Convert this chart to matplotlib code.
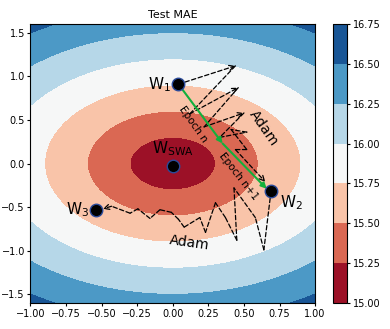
import numpy as np
import matplotlib
matplotlib.use('Agg')
import matplotlib.pyplot as plt

# contour levels of the loss surface (Test MAE)
levels = [15.0, 15.25, 15.5, 15.75, 16.0, 16.25, 16.5, 16.75]
base_loss = 15.0
slope = 0.833  # loss grows ~0.25 per 0.3 of distance from the centre

# weights
names = ['W$_1$', 'W$_2$', 'W$_3$', r'W$_\mathrm{SWA}$']
wx = [0.04, 0.69, -0.54, 0.0]
wy = [0.91, -0.32, -0.53, -0.03]

# SGD path W1 -> mid -> W2
green_x = [0.04, 0.35, 0.66]
green_y = [0.91, 0.23, -0.29]

# Adam paths (dashed), arrow flag = draw a head at the end of the segment
adam1_x = [0.04, 0.44, 0.12, 0.46, 0.22, 0.50, 0.33, 0.52, 0.41, 0.52, 0.44, 0.65]
adam1_y = [0.91, 1.12, 0.57, 0.87, 0.42, 0.58, 0.30, 0.36, 0.39, 0.16, 0.16, -0.21]
adam1_head = [1, 0, 1, 0, 1, 0, 0, 0, 0, 0, 1]

adam2_x = [0.69, 0.64, 0.58, 0.43, 0.45, 0.37, 0.30, 0.23, 0.19, 0.08, 0.04,
           -0.01, -0.09, -0.16, -0.245, -0.30, -0.43, -0.49]
adam2_y = [-0.32, -0.99, -0.62, -0.28, -0.88, -0.62, -0.45, -0.79, -0.62, -0.73, -0.64,
           -0.56, -0.53, -0.63, -0.52, -0.57, -0.49, -0.52]
adam2_head = [0] * 16 + [1]

xg = np.linspace(-1, 1, 400)
yg = np.linspace(-1.6, 1.6, 400)
X, Y = np.meshgrid(xg, yg)
Z = base_loss + slope * np.sqrt(X ** 2 + Y ** 2)

fig = plt.figure(figsize=(3.9, 3.29), dpi=100)
ax = fig.add_axes([0.078, 0.079, 0.730, 0.848])
cax = fig.add_axes([0.854, 0.079, 0.036, 0.848])

cs = ax.contourf(X, Y, Z, levels=levels, cmap='RdBu')
cb = fig.colorbar(cs, cax=cax, format='%.2f')
cb.ax.tick_params(labelsize=7, length=2.5, pad=1.5)

ax.set_xlim(-1, 1)
ax.set_ylim(-1.6, 1.6)
ax.set_xticks(np.arange(-1, 1.01, 0.25))
ax.tick_params(labelsize=7, length=2.5, pad=1.5)
ax.set_title('Test MAE', fontsize=8, pad=4)


def dashed_path(px, py, heads):
    for i in range(len(px) - 1):
        style = '->' if heads[i] else '-'
        ax.annotate('', xy=(px[i + 1], py[i + 1]), xytext=(px[i], py[i]),
                    arrowprops=dict(arrowstyle=style, color='black', lw=0.9,
                                    linestyle=(0, (3.5, 2)), shrinkA=0, shrinkB=0,
                                    mutation_scale=9))


dashed_path(adam1_x, adam1_y, adam1_head)
dashed_path(adam2_x, adam2_y, adam2_head)

for i in range(len(green_x) - 1):
    ax.annotate('', xy=(green_x[i + 1], green_y[i + 1]), xytext=(green_x[i], green_y[i]),
                arrowprops=dict(arrowstyle='-|>', color='#12b03c', lw=1.5,
                                shrinkA=0, shrinkB=0, mutation_scale=8))

ax.plot(wx, wy, 'o', color='black', markersize=9, markeredgecolor='#2a4a9a',
        markeredgewidth=1.0, zorder=5)

ax.text(wx[0] - 0.05, wy[0], names[0], fontsize=11, ha='right', va='center')
ax.text(wx[1] + 0.06, wy[1] - 0.13, names[1], fontsize=11, ha='left', va='center')
ax.text(wx[2] - 0.05, wy[2], names[2], fontsize=11, ha='right', va='center')
ax.text(wx[3], wy[3] + 0.2, names[3], fontsize=11, ha='center', va='center')

ax.text(0.14, 0.45, 'Epoch n', fontsize=7.5, rotation=-55, ha='center', va='center')
ax.text(0.46, -0.15, 'Epoch n+1', fontsize=7.5, rotation=-52, ha='center', va='center')
ax.text(0.64, 0.41, 'Adam', fontsize=10, rotation=-55, ha='center', va='center')
ax.text(0.12, -0.91, 'Adam', fontsize=10, rotation=-8, ha='center', va='center')

fig.savefig('out.png', dpi=100)
